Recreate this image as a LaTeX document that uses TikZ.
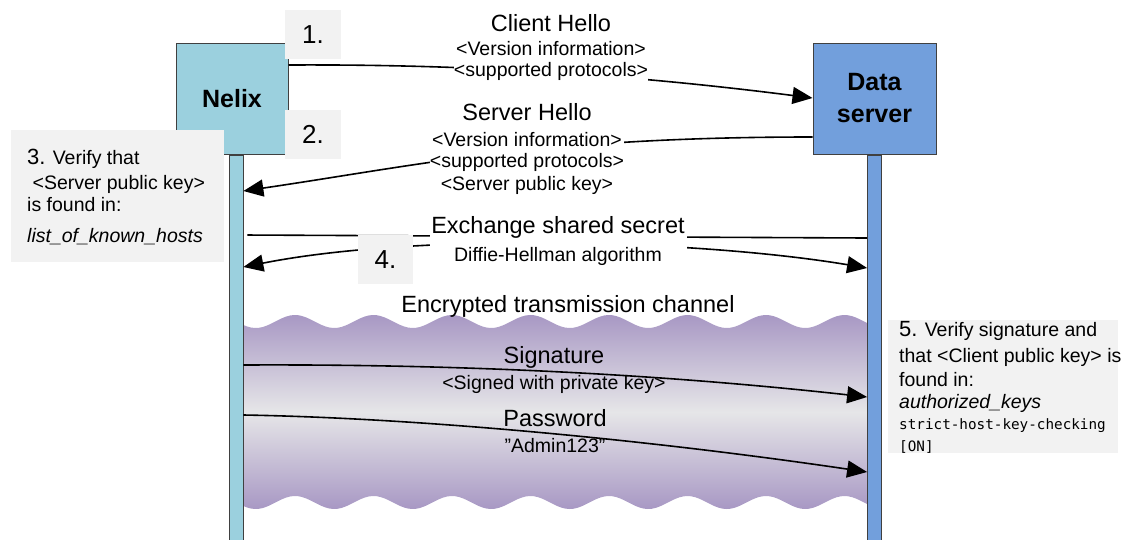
\documentclass[tikz,border=0pt]{standalone}
\usepackage{fontspec}
\setmainfont{Liberation Sans}
\setmonofont{DejaVu Sans Mono}
\usetikzlibrary{arrows.meta, positioning}

\definecolor{nelixblue}{RGB}{155,208,222}
\definecolor{serverblue}{RGB}{114,159,220}
\definecolor{notegray}{RGB}{242,242,242}
\definecolor{chanpurple}{RGB}{168,152,196}
\definecolor{chanlight}{RGB}{230,230,232}
\definecolor{edgegray}{RGB}{64,64,64}

\newcommand{\bigtxt}{\fontsize{23.5}{23}\selectfont}
\newcommand{\smalltxt}{\fontsize{19.5}{23}\selectfont}
\newcommand{\numtxt}{\fontsize{22}{23}\selectfont}
\newcommand{\monotxt}{\fontsize{14.3}{23}\selectfont\ttfamily}

\begin{document}
\begin{tikzpicture}[x=1pt, y=-1pt, >={Triangle[length=20pt, width=17pt]},
        actor/.style={rectangle, draw=edgegray, line width=1pt, minimum height=111pt, align=center, font=\fontsize{25}{32}\selectfont\bfseries},
        lifeline/.style={rectangle, draw=edgegray, line width=0.8pt, minimum width=14pt, minimum height=386pt, inner sep=0pt},
        stepbox/.style={rectangle, fill=notegray, inner sep=0pt, minimum height=49pt, font=\fontsize{26}{30}\selectfont},
        notebox/.style={rectangle, fill=notegray, inner sep=0pt, anchor=north west},
        notetext/.style={anchor=base west, align=left, inner sep=0pt, font=\smalltxt},
        msg/.style={line width=1.6pt},
        msglabel/.style={anchor=base, align=center, inner sep=0pt, font=\smalltxt}]

    \useasboundingbox (0,0) rectangle (1133,539);

    % Encrypted channel
    \shade [top color=chanpurple, bottom color=chanpurple, middle color=chanlight]
        plot[domain=243:868, samples=160] (\x, {321.5-6.5*cos(4.586*(\x-295))})
        -- plot[domain=868:243, samples=160] (\x, {502.5-6.5*cos(4.586*(\x-295))}) -- cycle;
    \node (chantxt) [anchor=base, font=\bigtxt] at (568,312) {Encrypted transmission channel};

    % Actors and lifelines
    \node (nelix) [actor, fill=nelixblue, minimum width=112pt] at (232,98.5) {Nelix};
    \node (data) [actor, fill=serverblue, minimum width=123pt] at (874.5,98.5) {Data\\server};
    \node (nelixline) [lifeline, fill=nelixblue, below=0pt of nelix, xshift=4pt] {};
    \node (dataline) [lifeline, fill=serverblue, below=0pt of data] {};

    % Handshake
    \draw [msg, ->] (nelix.east |- 0,65) .. controls (480,64) and (640,76) .. (data.west |- 0,98);
    \node (chlabel) [msglabel, fill=white] at (551,76.7) {{\bigtxt Client Hello}\\[1pt] <Version information>\\[-2pt] <supported protocols>};

    \draw [msg, ->] (data.west |- 0,137) .. controls (540,137) and (420,165) .. (nelixline.east |- 0,191);
    \node (shlabel) [msglabel, fill=white] at (527,190) {{\bigtxt Server Hello}\\[3pt] <Version information>\\[-2pt] <supported protocols>\\ <Server public key>};

    % Key exchange
    \draw [msg, shorten <=4pt] (nelixline.east |- 0,235) -- (dataline.west |- 0,238);
    \draw [msg, <->] (nelixline.east |- 0,267) .. controls (420,232) and (700,240) .. (dataline.west |- 0,268);
    \node (exlabel) [msglabel, fill=white, minimum width=257pt] at (558,261) {{\bigtxt Exchange shared secret}\\[5pt] Diffie-Hellman algorithm};

    % Inside the channel
    \draw [msg, ->] (nelixline.east |- 0,365) .. controls (450,364) and (650,373) .. (dataline.west |- 0,397);
    \node (siglabel) [msglabel] at (554,389) {{\bigtxt Signature}\\[3pt] <Signed with private key>};

    \draw [msg, ->] (nelixline.east |- 0,415) .. controls (420,418) and (650,440) .. (dataline.west |- 0,472);
    \node (pwlabel) [msglabel] at (555,452.7) {{\bigtxt Password}\\[3pt] ”Admin123”};

    % Step numbers
    \node (step1) [stepbox, minimum width=56pt] at (313,34.5) {1.};
    \node (step2) [stepbox, minimum width=56pt, below=51pt of step1] {2.};
    \node (step4) [stepbox, minimum width=55pt] at (385.5,259.5) {4.};

    % Notes
    \node (note3) [notebox, minimum width=213pt, minimum height=132pt] at (11,130) {};
    \node (note3txt) [notetext] at (27,242.7) {{\numtxt 3.} Verify that\\[2pt] \ <Server public key>\\[-1pt] is found in:\\[8pt] \textit{list\_of\_known\_hosts}};

    \node (note5) [notebox, minimum width=230pt, minimum height=133pt] at (888,320) {};
    \node (note5txt) [notetext] at (899,451) {{\numtxt 5.} Verify signature and\\[3pt] that <Client public key> is\\[1pt] found in:\\[-1pt] \textit{authorized\_keys}\\[-2pt] {\monotxt strict-host-key-checking}\\[-1pt] {\monotxt [ON]}};

\end{tikzpicture}
\end{document}
